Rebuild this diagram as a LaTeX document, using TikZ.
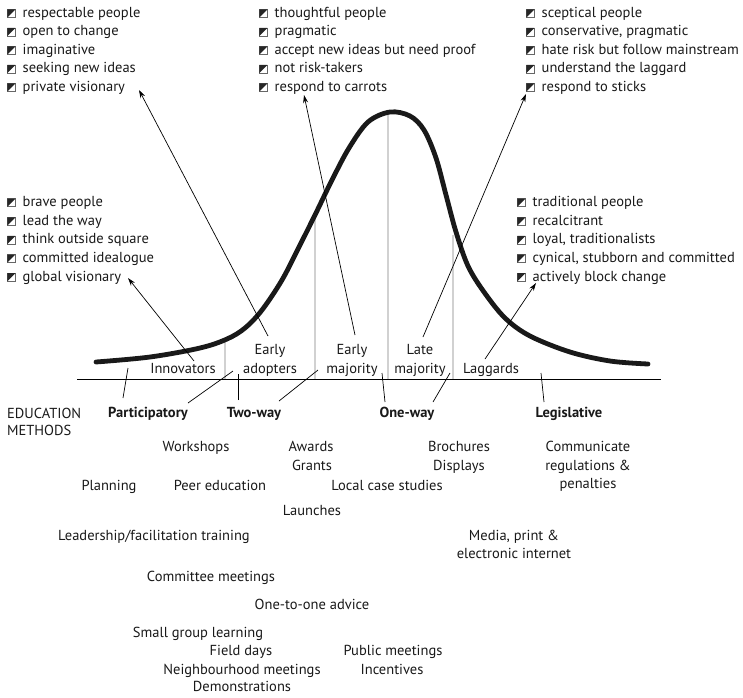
\documentclass[tikz,border=0pt]{standalone}
\usepackage{fontspec}
\setmainfont{PT Sans}
\usetikzlibrary{arrows.meta}
\newcommand\bul{\tikz[baseline=0pt]{\fill[white,draw=black!60,line width=0.5pt](0pt,0pt) rectangle (8pt,8pt);\fill[black!85](0pt,0pt)--(0pt,8pt)--(8pt,8pt)--cycle;}\hspace{7pt}}
\tikzset{
  lbl/.style={font=\fontsize{14.5}{18.5}\selectfont, text=black!90, inner sep=0pt, anchor=base},
  lst/.style={lbl, anchor=base west},
  bld/.style={lbl, font=\fontsize{14.5}{18.5}\selectfont\bfseries},
  arr/.style={-{Stealth[length=8pt,width=5pt]}, line width=0.7pt},
  conn/.style={line width=0.7pt},
  gline/.style={draw=black!18, line width=2.6pt},
  curve/.style={line width=4.8pt, line cap=round, line join=round, draw=black!90}
}
\begin{document}
\begin{tikzpicture}[x=1pt,y=-1pt]
\useasboundingbox (0,0) rectangle (743,697);
% top lists
\foreach \t [count=\i] in {respectable people, open to change, imaginative, seeking new ideas, private visionary}
  \node[lst] (tl\i) at (7,{17.3+18.5*(\i-1)}) {\bul\t};
\foreach \t [count=\i] in {thoughtful people, pragmatic, accept new ideas but need proof, not risk-takers, respond to carrots}
  \node[lst] (tm\i) at (259,{17.3+18.5*(\i-1)}) {\bul\t};
\foreach \t [count=\i] in {sceptical people, {conservative, pragmatic}, hate risk but follow mainstream, understand the laggard, respond to sticks}
  \node[lst] (tr\i) at (526,{17.3+18.5*(\i-1)}) {\bul\t};
% middle lists
\foreach \t [count=\i] in {brave people, lead the way, think outside square, committed idealogue, global visionary}
  \node[lst] (ml\i) at (7,{206.7+18.6*(\i-1)}) {\bul\t};
\foreach \t [count=\i] in {traditional people, recalcitrant, {loyal, traditionalists}, {cynical, stubborn and committed}, actively block change}
  \node[lst] (mr\i) at (517,{206.7+18.6*(\i-1)}) {\bul\t};
% grey dividers
\coordinate (base1) at (77,379);
\coordinate (base2) at (661,379);
\draw[gline] (225,340) -- (225,379);
\draw[gline] (315,215) -- (315,379);
\draw[gline] (388,112) -- (388,379);
\draw[gline] (453,235) -- (453,379);
% base line
\draw[conn] (base1) -- (base2);
% curve
\draw[curve] plot[smooth, tension=0.55] coordinates {
 (96,362) (150,357) (200,348) (227,339) (245,328) (262,310) (282,280) (300,245) (315,215) (332,180) (349,148) (368,122) (390,112)
 (410,116) (424,130) (436,158) (446,195) (456,232) (468,266) (484,292) (505,318) (530,336) (570,352) (610,361) (648,364)};
% category labels
\node[lbl] (innov) at (183,373) {Innovators};
\node[lbl] (ea1) at (270,354) {Early};
\node[lbl] (ea2) at (270,373) {adopters};
\node[lbl] (em1) at (352,354) {Early};
\node[lbl] (em2) at (352,373) {majority};
\node[lbl] (lm1) at (420,354) {Late};
\node[lbl] (lm2) at (420,373) {majority};
\node[lbl] (lag) at (491,373) {Laggards};
% arrows to lists
\coordinate (a1s) at (194,361); \coordinate (a1e) at (128,278);
\coordinate (a2s) at (268,336); \coordinate (a2e) at (139,90);
\coordinate (a3s) at (355,335); \coordinate (a3e) at (304,95);
\coordinate (a4s) at (423,337); \coordinate (a4e) at (526,94);
\coordinate (a5s) at (485,359); \coordinate (a5e) at (536,283);
\draw[arr] (a1s) -- (a1e);
\draw[arr] (a2s) -- (a2e);
\draw[arr] (a3s) -- (a3e);
\draw[arr] (a4s) -- (a4e);
\draw[arr] (a5s) -- (a5e);
% education methods
\node[lbl, anchor=base west] (edu1) at (7,418) {EDUCATION};
\node[lbl, anchor=base west] (edu2) at (7,435) {METHODS};
\node[bld] (part) at (148,417) {Participatory};
\node[bld] (two) at (254,417) {Two-way};
\node[bld] (one) at (407,417) {One-way};
\node[bld] (legis) at (569,417) {Legislative};
\draw[conn] (123,398) -- (128,368);
\draw[conn] (188,403) -- (233,371);
\draw[conn] (238,400) -- (238,374);
\draw[conn] (279,401) -- (318,370);
\draw[conn] (385,402) -- (382,373);
\draw[conn] (433,402) -- (450,373);
\draw[conn] (544,402) -- (541,373);
% method items
\node[lbl] (work) at (196,451) {Workshops};
\node[lbl] (award) at (311,451) {Awards};
\node[lbl] (grant) at (312,470) {Grants};
\node[lbl] (broch) at (459,451) {Brochures};
\node[lbl] (disp) at (459,470) {Displays};
\node[lbl] (comm1) at (588,451) {Communicate};
\node[lbl] (comm2) at (588,470) {regulations \&};
\node[lbl] (comm3) at (588,488) {penalties};
\node[lbl] (plan) at (109,490) {Planning};
\node[lbl] (peer) at (220,490) {Peer education};
\node[lbl] (local) at (387,490) {Local case studies};
\node[lbl] (launch) at (312,515) {Launches};
\node[lbl] (lead) at (154,540) {Leadership/facilitation training};
\node[lbl] (media1) at (514,540) {Media, print \&};
\node[lbl] (media2) at (514,558) {electronic internet};
\node[lbl] (commit) at (211,581) {Committee meetings};
\node[lbl] (one2one) at (312,609) {One-to-one advice};
\node[lbl] (small) at (198,637) {Small group learning};
\node[lbl] (field) at (241,655) {Field days};
\node[lbl] (neigh) at (242,674) {Neighbourhood meetings};
\node[lbl] (demo) at (242,691) {Demonstrations};
\node[lbl] (public) at (393,655) {Public meetings};
\node[lbl] (incent) at (392,674) {Incentives};
\end{tikzpicture}
\end{document}
